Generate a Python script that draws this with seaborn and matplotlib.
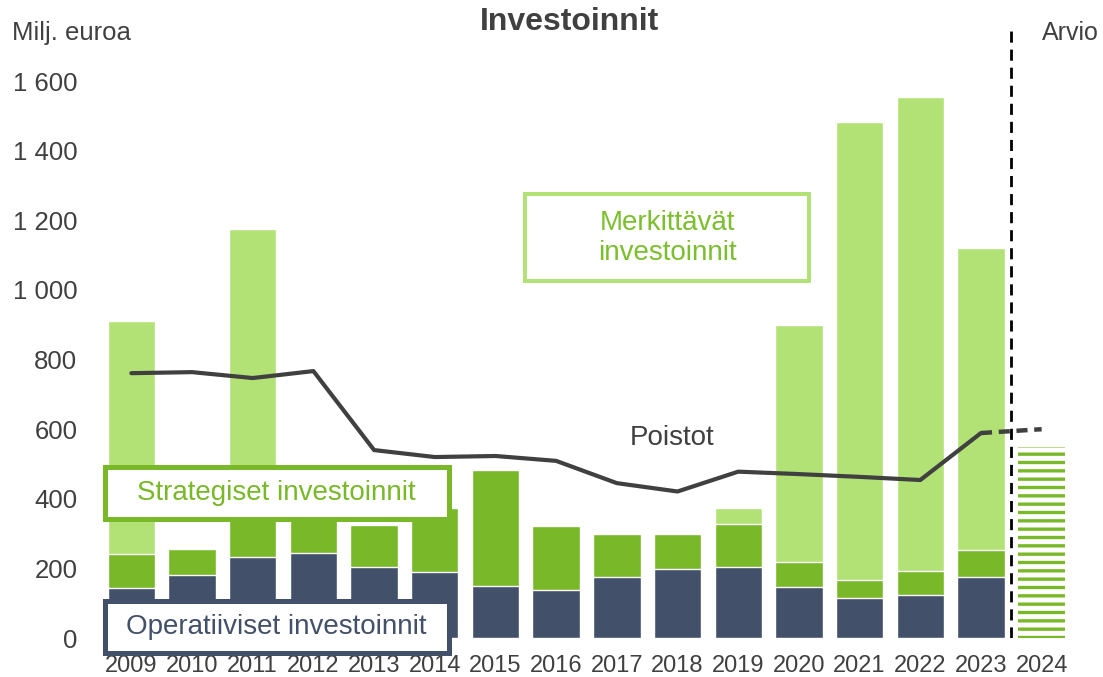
import numpy as np
import pandas as pd
import seaborn as sns
import matplotlib.pyplot as plt
from matplotlib.patches import Rectangle

# Data (million euros)
years = [str(y) for y in range(2009, 2025)]
hist_years = years[:-1]
operatiiviset = [145, 182, 234, 244, 205, 190, 150, 139, 174, 199, 204, 146, 115, 123, 174]
strategiset = [96, 73, 196, 176, 120, 183, 333, 184, 126, 101, 124, 73, 52, 69, 79]
merkittavat = [671, 0, 745, 0, 0, 0, 0, 0, 0, 0, 47, 681, 1316, 1362, 868]
arvio_2024 = [550]
poistot = [761, 764, 747, 767, 540, 520, 523, 509, 445, 421, 478, 471, 463, 454, 589, 600]

navy = "#435069"
green = "#78b829"
light_green = "#b2e276"
text_green = "#7cbf2e"
dark = "#404040"

sns.set_theme(style="white")
plt.rcParams["font.family"] = ["Liberation Sans", "DejaVu Sans"]
plt.rcParams["hatch.linewidth"] = 2.4

W, H = 1103, 677
def fx(px):
    return px / W
def fy(py):
    return 1 - py / H

df = pd.DataFrame({"vuosi": hist_years,
                   "oper": operatiiviset,
                   "strat": strategiset,
                   "merk": merkittavat})
df["strat_top"] = df["oper"] + df["strat"]
df["merk_top"] = df["strat_top"] + df["merk"]

fig = plt.figure(figsize=(11.03, 6.77), dpi=100)
ax = fig.add_axes([fx(101), fy(638), fx(1072) - fx(101), fy(29) - fy(638)])

# stacked bars drawn from the top of the stack down
sns.barplot(data=df, x="vuosi", y="merk_top", order=years, color=light_green,
            saturation=1, width=0.78, errorbar=None, ax=ax)
sns.barplot(data=df, x="vuosi", y="strat_top", order=years, color=green,
            saturation=1, width=0.78, errorbar=None, ax=ax)
sns.barplot(data=df, x="vuosi", y="oper", order=years, color=navy,
            saturation=1, width=0.78, errorbar=None, ax=ax)

# 2024 estimate, hatched
est = pd.DataFrame({"vuosi": years[-1:], "arvo": arvio_2024})
sns.barplot(data=est, x="vuosi", y="arvo", order=years, color="white",
            saturation=1, width=0.78, errorbar=None, ax=ax)
for p in ax.containers[-1]:
    p.set_hatch("--")
    p.set_edgecolor(green)
    p.set_facecolor("white")
    p.set_linewidth(0)

# depreciation line
xpos = np.arange(len(years))
sns.lineplot(x=xpos[:-1], y=poistot[:-1], color=dark, linewidth=3, ax=ax, zorder=5)
sns.lineplot(x=xpos[-2:], y=poistot[-2:], color=dark, linewidth=3.2, ax=ax,
             zorder=5, linestyle=(0, (2.5, 1.5)))

ax.axvline(len(years) - 1.5, color="black", linewidth=2, linestyle=(0, (4, 2.5)), zorder=6)

ax.set_xlim(-0.5, len(years) - 0.5)
ax.set_ylim(0, 1750)
yt = list(range(0, 1601, 200))
ax.set_yticks(yt)
ax.set_yticklabels([f"{v:,}".replace(",", " ") for v in yt])
ax.tick_params(axis="y", length=0, pad=17, labelsize=18.5, labelcolor=dark)
ax.tick_params(axis="x", length=0, pad=12, labelsize=17, labelcolor=dark)
ax.set_xlabel("")
ax.set_ylabel("")
sns.despine(ax=ax, left=True, bottom=True)

# labelled boxes
boxes = [
    (104.5, 466.5, 448.5, 518.5, green, 5, "Strategiset investoinnit", green),
    (104.5, 600.5, 448.5, 652.5, navy, 5, "Operatiiviset investoinnit", navy),
    (525, 194, 809, 281, light_green, 4, "Merkittävät\ninvestoinnit", text_green),
]
for x0, y0, x1, y1, ec, lw, label, tc in boxes:
    fig.add_artist(Rectangle((fx(x0), fy(y1)), fx(x1) - fx(x0), fy(y0) - fy(y1),
                             transform=fig.transFigure, facecolor="white",
                             edgecolor=ec, linewidth=lw * 0.72, zorder=10))
    fig.text(fx((x0 + x1) / 2), fy((y0 + y1) / 2 + 1), label, ha="center", va="center",
             fontsize=20, color=tc, zorder=11, linespacing=1.2)

fig.text(fx(672), fy(438), "Poistot", ha="center", va="center", fontsize=20, color=dark)
fig.text(fx(569), fy(22), "Investoinnit", ha="center", va="center", fontsize=23,
         fontweight="bold", color=dark)
fig.text(fx(12), fy(33), "Milj. euroa", ha="left", va="center", fontsize=18.5, color=dark)
fig.text(fx(1042), fy(33), "Arvio", ha="left", va="center", fontsize=18, color=dark)

fig.savefig("out.png", dpi=100)
